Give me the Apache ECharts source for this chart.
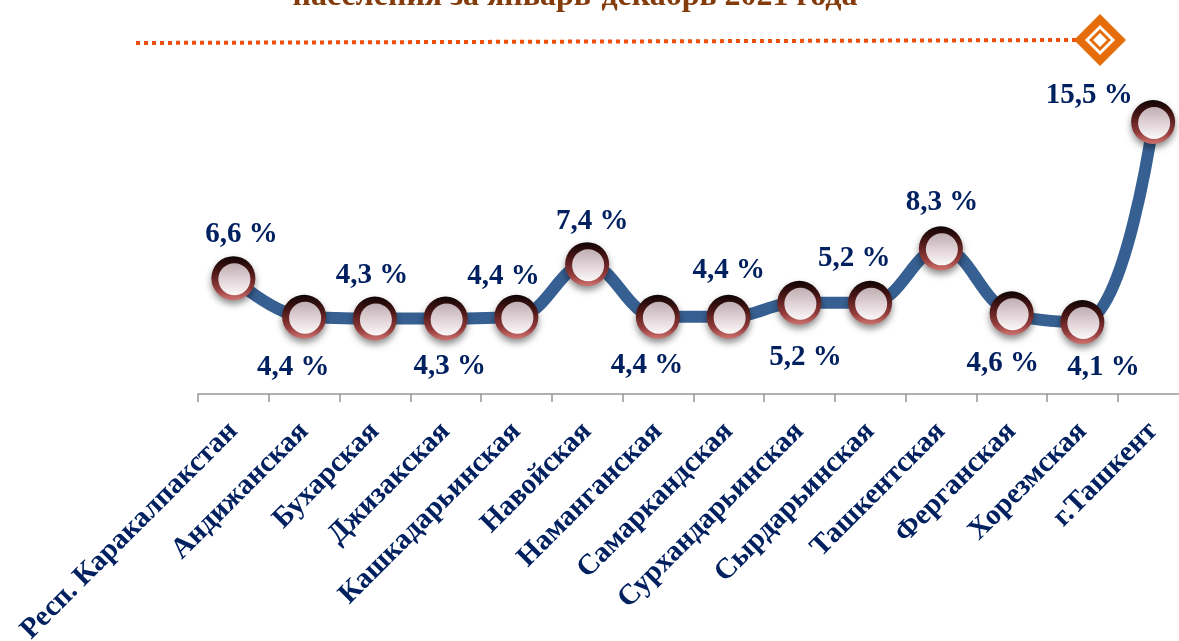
<!DOCTYPE html>
<html><head><meta charset="utf-8">
<style>html,body{margin:0;padding:0;background:#fff}#c{width:1179px;height:641px}</style>
<script src="https://cdn.jsdelivr.net/npm/echarts@6/dist/echarts.min.js"></script>
</head><body><div id="c"></div>
<script>
const categories=['Респ. Каракалпакстан','Андижанская','Бухарская','Джизакская','Кашкадарьинская','Навойская','Наманганская','Самаркандская','Сурхандарьинская','Сырдарьинская','Ташкентская','Ферганская','Хорезмская','г.Ташкент'];
const values=[6.6,4.4,4.3,4.3,4.4,7.4,4.4,4.4,5.2,5.2,8.3,4.6,4.1,15.5];
const labelOffsets=[[8,-44],[-11,51],[-3,-43],[4,48],[-13,-40],[5,-43],[-11,49],[0,-46],[6,55],[-16,-44],[1,-46],[-9,50],[21,45],[-64,-26]];
const title='населения за январь-декабрь 2021 года';
const font='"Liberation Serif","Times New Roman",serif';
const navy='#002060';
const chart=echarts.init(document.getElementById('c'),null,{renderer:'canvas'});
chart.setOption({
  animation:false,
  backgroundColor:'#fff',
  title:{text:title,left:570,top:-24,textAlign:'center',textStyle:{fontFamily:font,fontWeight:'bold',fontSize:32,color:'#843C0C'}},
  grid:{left:198,top:122,width:990.5,height:272,containLabel:false,outerBoundsMode:'none'},
  xAxis:{type:'category',data:categories,boundaryGap:true,
    axisLine:{show:true,lineStyle:{color:'#969696',width:1.5}},
    axisTick:{show:true,alignWithLabel:false,length:8,inside:false,lineStyle:{color:'#969696',width:1.5}},
    axisLabel:{rotate:45,interval:0,margin:33,hideOverlap:false,fontFamily:font,fontWeight:'bold',fontSize:29,color:navy}},
  yAxis:{type:'value',min:0,max:15.5,show:false,splitLine:{show:false}},
  series:[
    {type:'line',data:values,smooth:0.4,lineStyle:{color:'#376092',width:12},
     symbol:'circle',symbolSize:44,
     itemStyle:{color:{type:'linear',x:0,y:0,x2:0,y2:1,colorStops:[{offset:0,color:'#100404'},{offset:0.35,color:'#4a1616'},{offset:0.75,color:'#943c3c'},{offset:1,color:'#cf7470'}]},
       shadowColor:'rgba(0,0,0,0.45)',shadowBlur:7,shadowOffsetY:4},
     label:{show:true,formatter:p=>String(p.value).replace('.',',')+' %',position:'inside',fontFamily:font,fontWeight:'bold',fontSize:29,color:navy},
     labelLayout:p=>({dx:labelOffsets[p.dataIndex][0],dy:labelOffsets[p.dataIndex][1]}),
     z:2},
    {type:'line',data:values,smooth:0.4,lineStyle:{opacity:0},symbol:'circle',symbolSize:32,symbolOffset:[1,1],silent:true,
     itemStyle:{color:{type:'linear',x:0,y:0,x2:0,y2:1,colorStops:[{offset:0,color:'#bfaeb3'},{offset:0.5,color:'#e0d2d6'},{offset:1,color:'#fbf8f8'}]}},
     z:3}
  ],
  graphic:[
    {type:'line',shape:{x1:136,y1:43,x2:1076,y2:40},style:{stroke:'#F04E0C',lineWidth:4,lineDash:[4,4]},z:5},
    {type:'polygon',shape:{points:[[1100,14],[1126,40],[1100,66],[1074,40]]},style:{fill:'#E46C0A'},z:6},
    {type:'polygon',shape:{points:[[1100,25],[1115,40],[1100,55],[1085,40]]},style:{fill:'#fff'},z:7},
    {type:'polygon',shape:{points:[[1100,29],[1111,40],[1100,51],[1089,40]]},style:{fill:'#E46C0A'},z:8},
    {type:'polygon',shape:{points:[[1100,33],[1107,40],[1100,47],[1093,40]]},style:{fill:'#fff'},z:9}
  ]
});
</script></body></html>
